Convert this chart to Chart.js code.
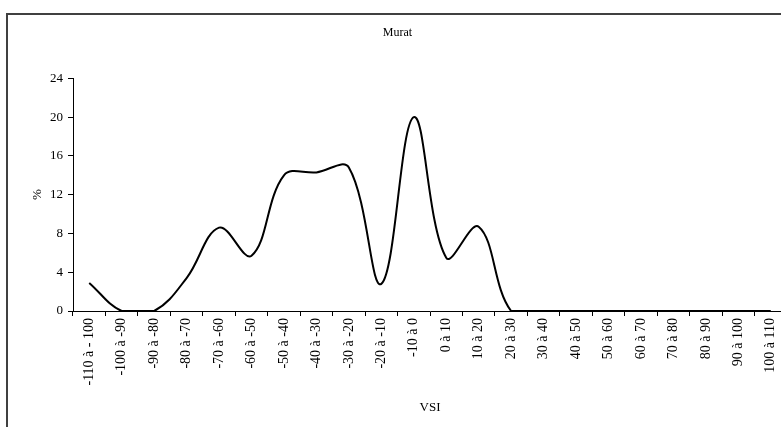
<!DOCTYPE html>
<html>
<head>
<meta charset="utf-8">
<script src="https://cdn.jsdelivr.net/npm/chart.js@4"></script>
<style>
  html, body { margin: 0; padding: 0; background: #fff; }
  body { width: 781px; height: 427px; overflow: hidden; position: relative; }
  #frame { position: absolute; left: 6px; top: 13px; width: 800px; height: 430px; border: 2px solid #404040; box-sizing: border-box; }
  #chart { position: absolute; left: 0; top: 0; }
</style>
</head>
<body>
<div id="frame"><canvas id="chart" width="796" height="412"></canvas></div>
<script>
// VSI classes and share (%) per class
var vsiLabels = ['-110 à - 100', '-100 à -90', '-90 à -80', '-80 à -70', '-70 à -60', '-60 à -50',
    '-50 à -40', '-40 à -30', '-30 à -20', '-20 à -10', '-10 à 0', '0 à 10', '10 à 20', '20 à 30',
    '30 à 40', '40 à 50', '50 à 60', '60 à 70', '70 à 80', '80 à 90', '90 à 100', '100 à 110'];
var muratValues = [2.9, 0, 0, 3.4, 8.6, 5.7, 14.0, 14.3, 14.8, 2.8, 20.0, 5.5, 8.7, 0,
    0, 0, 0, 0, 0, 0, 0, 0];
var yTicks = [0, 4, 8, 12, 16, 20, 24];

var serif = 'Liberation Serif';

var ctx = document.getElementById('chart').getContext('2d');
var chart = new Chart(ctx, {
    type: 'line',
    data: {
        labels: vsiLabels,
        datasets: [{
            label: 'Murat',
            data: muratValues,
            borderColor: '#000',
            borderWidth: 2,
            pointRadius: 0,
            tension: 0.38,
            fill: false
        }]
    },
    options: {
        responsive: false,
        animation: false,
        layout: { padding: { left: 0, right: 17, top: 0, bottom: 0 } },
        plugins: {
            legend: { display: false },
            tooltip: { enabled: false },
            title: {
                display: true,
                text: 'Murat',
                color: '#000',
                font: { family: serif, size: 12, weight: 'normal' },
                padding: { top: 11, bottom: 38 }
            }
        },
        scales: {
            x: {
                offset: true,
                border: { color: '#000', width: 1 },
                grid: { offset: true, drawOnChartArea: false, drawTicks: true, tickLength: 5, color: '#000' },
                ticks: {
                    color: '#000',
                    font: { family: serif, size: 14 },
                    minRotation: 90,
                    maxRotation: 90,
                    autoSkip: false,
                    padding: 2
                },
                title: {
                    display: true,
                    text: 'VSI',
                    color: '#000',
                    font: { family: serif, size: 13 },
                    padding: { top: 0, bottom: 12 }
                },
                afterFit: function (scale) { scale.height = 116; }
            },
            y: {
                min: 0,
                max: 24,
                border: { color: '#000', width: 1 },
                grid: { drawOnChartArea: false, drawTicks: true, tickLength: 5, color: '#000' },
                afterBuildTicks: function (scale) {
                    scale.ticks = yTicks.map(function (v) { return { value: v }; });
                },
                ticks: {
                    color: '#000',
                    font: { family: serif, size: 13 },
                    padding: 5
                },
                title: {
                    display: true,
                    text: '%',
                    color: '#000',
                    font: { family: serif, size: 13 },
                    padding: { top: 22, bottom: 0 }
                },
                afterFit: function (scale) { scale.width = 65; }
            }
        }
    }
});
</script>
</body>
</html>
